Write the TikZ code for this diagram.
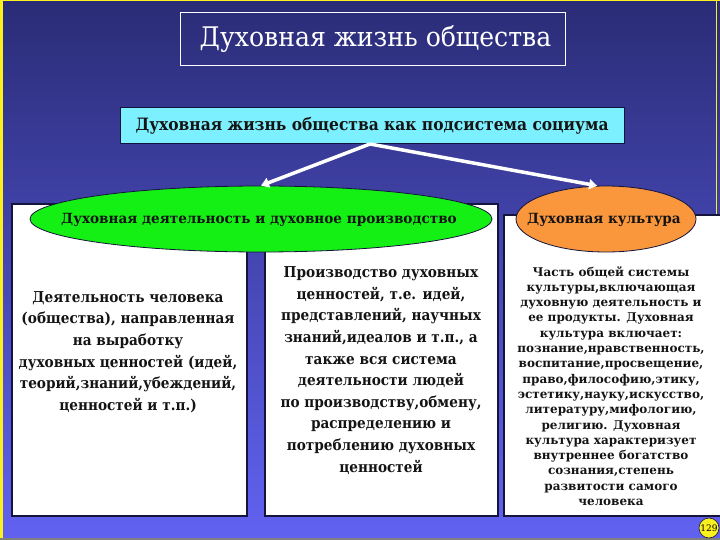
\documentclass[tikz,border=0pt]{standalone}
\usepackage{fontspec}
\setmainfont{DejaVu Serif}
\newfontfamily\titlefont{DejaVu Serif}[FakeStretch=0.93]
\newfontfamily\narrowfont{DejaVu Serif}[FakeStretch=0.91]
\newfontfamily\ellfont{DejaVu Serif}[FakeStretch=0.97]
\newfontfamily\widefont{DejaVu Serif}
\usetikzlibrary{shapes.geometric,arrows.meta}
\definecolor{bgtop}{RGB}{42,44,118}
\definecolor{bgbot}{RGB}{98,98,242}
\definecolor{framey}{RGB}{250,240,30}
\definecolor{cyanbox}{RGB}{125,240,255}
\definecolor{greenell}{RGB}{20,240,20}
\definecolor{orangeell}{RGB}{250,150,60}
\definecolor{edgec}{RGB}{20,20,60}
\definecolor{inkc}{RGB}{20,20,20}
\begin{document}
\begin{tikzpicture}[x=1pt,y=-1pt,
  panel/.style={draw=edgec,line width=1.2pt,fill=white,inner sep=0pt},
  ell/.style={ellipse,draw=edgec,line width=0.8pt,inner sep=0pt},
  elltext/.style={text=inkc,inner sep=0pt,font=\ellfont\fontsize{14}{14}\selectfont\bfseries},
  arr/.style={draw=white,line width=3.5pt,-{Triangle[width=10pt,length=8pt]}},
  bodytext/.style={align=center,text=inkc,font=\narrowfont\fontsize{15}{21.6}\selectfont\bfseries},
  smalltext/.style={align=center,text=inkc,font=\widefont\fontsize{12}{15.3}\selectfont\bfseries}]
\useasboundingbox (0,0) rectangle (720,540);
\shade[top color=bgtop,bottom color=bgbot] (0,0) rectangle (720,540);
\fill[framey] (0,0) rectangle (2.5,540);
\fill[framey] (0,0) rectangle (720,1.5);
\draw[framey,line width=1pt] (716,0) -- (716,215);
\fill[gray] (0,537.5) rectangle (720,540);

\node[draw=white,line width=1pt,minimum width=385pt,minimum height=53pt,inner sep=0pt] (title) at (372.5,39.5) {};
\node[text=white,inner sep=0pt,font=\titlefont\fontsize{27}{27}\selectfont] (titletext) at (375.5,39.5) {Духовная жизнь общества};

\node[draw=edgec,fill=cyanbox,line width=1pt,minimum width=504pt,minimum height=36pt,inner sep=0pt,
  text=inkc,font=\narrowfont\fontsize{17}{17}\selectfont\bfseries] (sub) at (372,126) {Духовная жизнь общества как подсистема социума};

\node[panel,minimum width=235pt,minimum height=312pt] (b1) at (129.5,360) {};
\node[panel,minimum width=233pt,minimum height=312pt] (b2) at (381.5,360) {};
\node[panel,minimum width=218pt,minimum height=301pt] (b3) at (613,365.5) {};

\node[bodytext] (t1) at (128,352) {Деятельность человека\\(общества), направленная\\на выработку\\духовных ценностей (идей,\\теорий,знаний,убеждений,\\ценностей и т.п.)};
\node[bodytext] (t2) at (381,370.5) {Производство духовных\\ценностей, т.е. идей,\\представлений, научных\\знаний,идеалов и т.п., а\\также вся система\\деятельности людей\\по производству,обмену,\\распределению и\\потреблению духовных\\ценностей};
\node[smalltext] (t3) at (611,386) {Часть общей системы\\культуры,включающая\\духовную деятельность и\\ее продукты. Духовная\\культура включает:\\познание,нравственность,\\воспитание,просвещение,\\право,философию,этику,\\эстетику,науку,искусство,\\литературу,мифологию,\\религию. Духовная\\культура характеризует\\внутреннее богатство\\сознания,степень\\развитости самого\\человека};

\node[ell,fill=greenell,minimum width=462pt,minimum height=66pt] (g) at (261,219) {};
\node[elltext] (gt) at (259,220) {Духовная деятельность и духовное производство};
\node[ell,fill=orangeell,minimum width=180pt,minimum height=66pt] (o) at (606,219) {};
\node[elltext] (ot) at (604,220) {Духовная культура};

\coordinate (src) at (370,144);
\draw[arr] (src) -- (g.north);
\draw[arr] (src) -- (o.105);

\node[circle,draw=edgec,fill=framey,line width=0.6pt,minimum size=20pt,inner sep=0pt,
  font=\fontsize{9}{9}\selectfont] (pg) at (709,528) {129};
\end{tikzpicture}
\end{document}
